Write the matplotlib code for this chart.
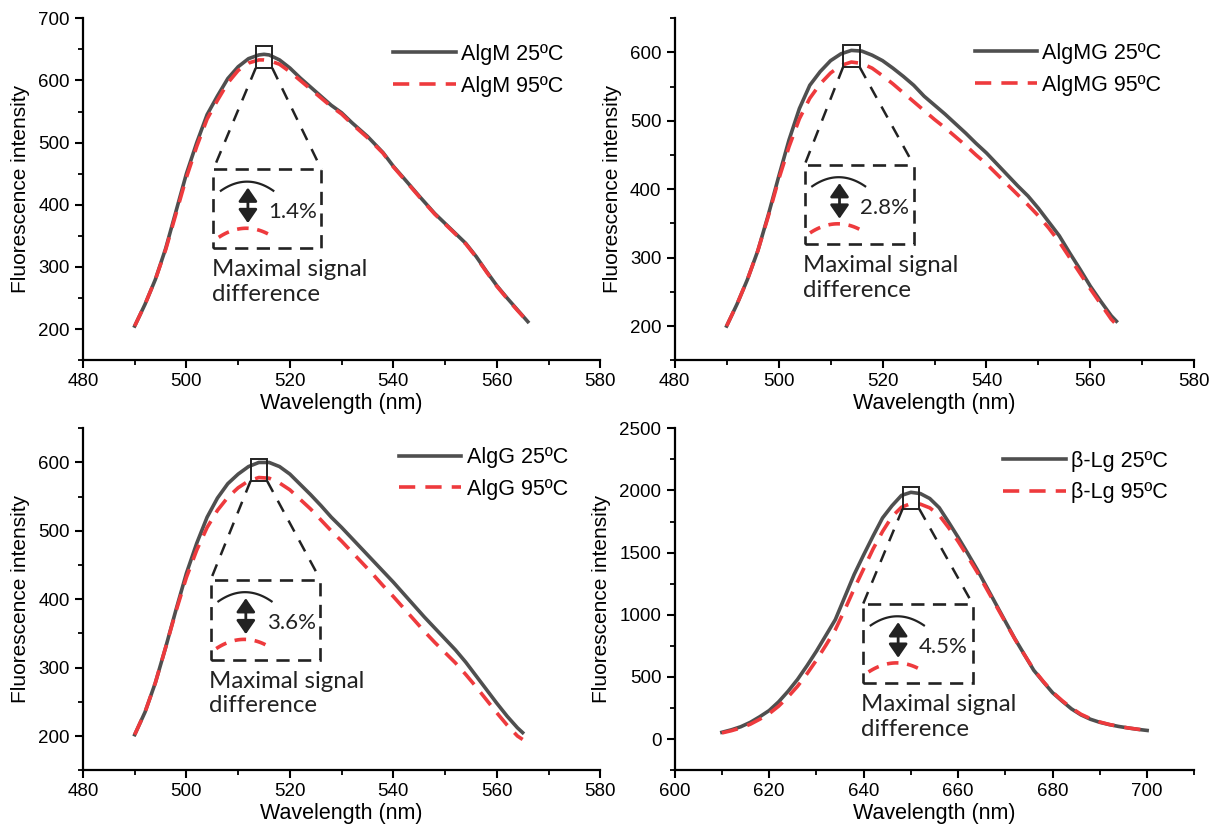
import numpy as np
import matplotlib.pyplot as plt
from matplotlib.patches import Rectangle

plt.rcParams['font.family'] = ['Liberation Sans', 'DejaVu Sans']

# --- spectra ---
algm_wl = [490, 492, 494, 496, 498, 500, 502, 504, 506, 508, 510, 512, 514, 515, 516,
           518, 520, 522, 525, 528, 530, 532, 535, 538, 540, 542, 545, 548, 550, 552,
           554, 556, 558, 560, 562, 564, 566]
algm_25 = [205, 240, 280, 330, 390, 450, 500, 545, 575, 603, 622, 635, 641, 642, 641,
           633, 620, 604, 582, 560, 548, 532, 510, 484, 462, 443, 414, 386, 370, 354,
           338, 317, 293, 270, 250, 231, 212]
algm_95 = [205, 240, 280, 328, 386, 444, 494, 538, 568, 596, 616, 628, 633, 633, 632,
           626, 614, 600, 579, 558, 546, 530, 508, 483, 461, 442, 413, 385, 369, 353,
           337, 316, 292, 269, 249, 230, 212]

algmg_wl = list(range(490, 566, 2)) + [565]
algmg_25 = [200, 232, 268, 310, 362, 418, 472, 518, 552, 572, 588, 598, 603, 602, 596,
            588, 577, 565, 552, 536, 523, 510, 496, 482, 467, 453, 437, 421, 405, 390,
            372, 352, 332, 307, 283, 258, 236, 215, 207]
algmg_95 = [200, 232, 268, 310, 360, 414, 462, 503, 533, 554, 570, 581, 586, 584, 577,
            566, 554, 541, 528, 515, 502, 490, 477, 464, 450, 437, 422, 407, 392, 377,
            361, 343, 323, 300, 277, 254, 232, 210, 202]

algg_wl = list(range(490, 566, 2)) + [565]
algg_25 = [202, 235, 278, 330, 385, 438, 482, 520, 548, 569, 583, 594, 600, 600, 594,
           583, 568, 553, 537, 520, 505, 489, 473, 457, 441, 425, 408, 391, 374, 358,
           342, 326, 308, 288, 268, 248, 229, 212, 205]
algg_95 = [202, 235, 278, 330, 383, 432, 472, 505, 530, 549, 563, 573, 578, 577, 570,
           560, 546, 532, 516, 500, 485, 469, 453, 437, 420, 404, 387, 370, 353, 337,
           322, 307, 290, 272, 253, 234, 216, 200, 195]

blg_wl = list(range(610, 701, 2))
blg_25 = [55, 75, 100, 135, 180, 230, 300, 385, 480, 590,
          707, 834, 961, 1143, 1325, 1482, 1634, 1779, 1877, 1960,
          1985, 1975, 1935, 1861, 1744, 1623, 1496, 1366, 1226, 1086,
          946, 808, 681, 554, 462, 373, 306, 243, 195, 160,
          135, 117, 102, 90, 79, 70]
blg_95 = [50, 68, 90, 120, 160, 205, 265, 340, 425, 525,
          635, 755, 880, 1040, 1210, 1370, 1530, 1670, 1790, 1865,
          1895, 1890, 1860, 1800, 1700, 1590, 1470, 1345, 1210, 1075,
          940, 805, 680, 560, 465, 378, 310, 250, 200, 165,
          138, 118, 103, 90, 80, 70]

names = ['AlgM', 'AlgMG', 'AlgG', 'β-Lg']
diffs = ['1.4%', '2.8%', '3.6%', '4.5%']

BLACK = '#4f4f4f'
RED = '#ee3a3d'
INK = '#222222'

fig = plt.figure(figsize=(12.2, 8.3), dpi=100)

# axes rects, limits, ticks, legend anchor, zoom-box rect (axes fraction)
panels = [
    dict(rect=[0.068, 0.566, 0.424, 0.412], wl=algm_wl, a=algm_25, b=algm_95,
         xlim=(480, 580), ylim=(150, 700), xt=(480, 581, 20), yt=(200, 701, 100),
         leg=(0.6, 0.925), box=(0.252, 0.327, 0.209, 0.231)),
    dict(rect=[0.553, 0.566, 0.426, 0.412], wl=algmg_wl, a=algmg_25, b=algmg_95,
         xlim=(480, 580), ylim=(150, 650), xt=(480, 581, 20), yt=(200, 601, 100),
         leg=(0.577, 0.928), box=(0.250, 0.340, 0.210, 0.231)),
    dict(rect=[0.068, 0.072, 0.424, 0.412], wl=algg_wl, a=algg_25, b=algg_95,
         xlim=(480, 580), ylim=(150, 650), xt=(480, 581, 20), yt=(200, 601, 100),
         leg=(0.611, 0.945), box=(0.247, 0.323, 0.212, 0.234)),
    dict(rect=[0.553, 0.072, 0.426, 0.412], wl=blg_wl, a=blg_25, b=blg_95,
         xlim=(600, 710), ylim=(-250, 2500), xt=(600, 701, 20), yt=(0, 2501, 500),
         leg=(0.632, 0.935), box=(0.3625, 0.255, 0.211, 0.231)),
]


def draw_zoom(ax, p, diff):
    wl = np.array(p['wl'])
    a = np.array(p['a'])
    b = np.array(p['b'])
    x0, x1 = p['xlim']
    y0, y1 = p['ylim']
    # small square around the peak
    px = wl[np.argmax(a)]
    py = (a.max() + b.max()) / 2
    fx = (px - x0) / (x1 - x0)
    fy = (py - y0) / (y1 - y0)
    sw, sh = 0.032, 0.064
    ax.add_patch(Rectangle((fx - sw / 2, fy - sh / 2), sw, sh, transform=ax.transAxes,
                           fill=False, ec=INK, lw=1.4, clip_on=False, zorder=6))
    bl, bb, bw, bh = p['box']
    ax.add_patch(Rectangle((bl, bb), bw, bh, transform=ax.transAxes, fill=False,
                           ec=INK, lw=1.9, ls=(0, (5, 3.2)), zorder=6))
    # connectors from the small square to the big box
    ax.plot([fx - sw / 2, bl], [fy - sh / 2, bb + bh], transform=ax.transAxes,
            color=INK, lw=1.8, ls=(0, (5, 4)), zorder=6)
    ax.plot([fx + sw / 2, bl + bw], [fy - sh / 2, bb + bh], transform=ax.transAxes,
            color=INK, lw=1.8, ls=(0, (5, 4)), zorder=6)
    # sketch of the two peaks inside the box
    t = np.linspace(-1, 1, 40)
    ax.plot(bl + bw * (0.07 + (t + 1) / 2 * 0.485), bb + bh * (0.845 - 0.115 * t ** 2),
            transform=ax.transAxes, color=INK, lw=1.6, zorder=6)
    ax.plot(bl + bw * (0.05 + (t + 1) / 2 * 0.51), bb + bh * (0.255 - 0.115 * t ** 2),
            transform=ax.transAxes, color=RED, lw=2.6, ls=(0, (3.2, 2.4)), zorder=6)
    ax.annotate('', xy=(bl + bw * 0.32, bb + bh * 0.32), xytext=(bl + bw * 0.32, bb + bh * 0.77),
                xycoords='axes fraction', textcoords='axes fraction',
                arrowprops=dict(arrowstyle='<|-|>,head_length=0.55,head_width=0.38',
                                color=INK, lw=2.0, mutation_scale=15,
                                shrinkA=0, shrinkB=0), zorder=6)
    ax.text(bl + bw * 0.51, bb + bh * 0.46, diff, transform=ax.transAxes, fontsize=16,
            family=['Lato', 'DejaVu Sans'], va='center', ha='left', color=INK)
    ax.text(bl - 0.003, bb - 0.032, 'Maximal signal\ndifference', transform=ax.transAxes,
            fontsize=17.3, family=['Lato', 'DejaVu Sans'], va='top', ha='left',
            linespacing=1.22, color=INK)


for p, name, diff in zip(panels, names, diffs):
    ax = fig.add_axes(p['rect'])
    ax.plot(p['wl'], p['a'], color=BLACK, lw=2.6, label=f'{name} 25ºC', zorder=3,
            solid_joinstyle='round')
    ax.plot(p['wl'], p['b'], color=RED, lw=2.6, ls=(0, (4.5, 2.8)),
            label=f'{name} 95ºC', zorder=4)
    ax.set_xlim(*p['xlim'])
    ax.set_ylim(*p['ylim'])
    ax.set_xticks(np.arange(*p['xt']))
    ax.set_yticks(np.arange(*p['yt']))
    ax.set_xticks(np.arange(p['xlim'][0], p['xlim'][1] + 1, 10), minor=True)
    ystep = p['yt'][2] / 2
    ax.set_yticks(np.arange(p['ylim'][0] + (-p['ylim'][0]) % ystep, p['ylim'][1] + 1, ystep),
                  minor=True)
    for side in ['top', 'right']:
        ax.spines[side].set_visible(False)
    for side in ['left', 'bottom']:
        ax.spines[side].set_linewidth(1.6)
    ax.tick_params(which='major', direction='out', length=6, width=1.5, labelsize=13.5)
    ax.tick_params(which='minor', direction='out', length=3.5, width=1.3)
    ax.set_xlabel('Wavelength (nm)', fontsize=15.5, labelpad=2)
    ax.set_ylabel('Fluorescence intensity', fontsize=15, labelpad=6)
    ax.legend(loc='upper left', bbox_to_anchor=p['leg'], frameon=False, fontsize=15.5,
              handlelength=2.9, handletextpad=0.25, labelspacing=0.5, borderpad=0,
              borderaxespad=0)
    draw_zoom(ax, p, diff)

fig.savefig('out.png', dpi=100)
